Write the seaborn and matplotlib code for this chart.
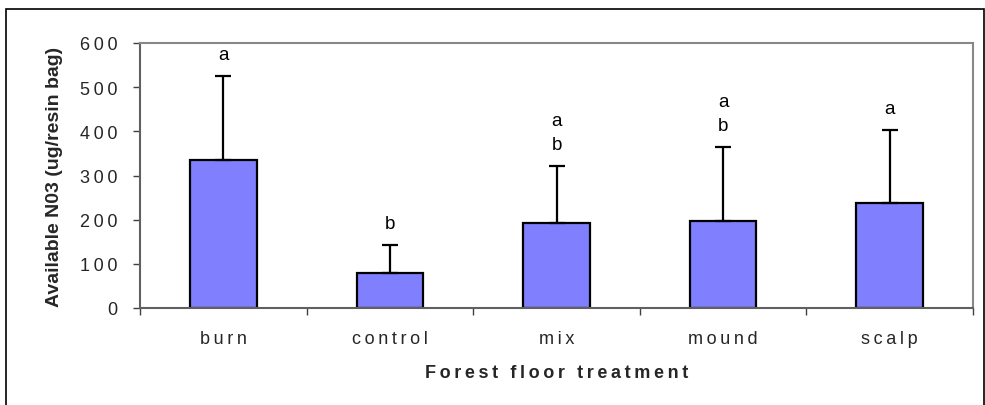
import matplotlib
matplotlib.use("Agg")
import matplotlib.pyplot as plt
import seaborn as sns
import pandas as pd
from matplotlib.patches import Rectangle

treatments = ["burn", "control", "mix", "mound", "scalp"]
means = [335, 79, 192, 198, 238]
errors = [191, 63, 129, 167, 166]
letters = ["a", "b", "a\nb", "a\nb", "a"]
yticks = [0, 100, 200, 300, 400, 500, 600]

sns.set_theme(style="white")
plt.rcParams['font.family'] = ['Liberation Sans', 'DejaVu Sans']

TS = "\u2009"  # thin space used as letter spacing (Excel-style)


def spaced(s):
    return TS.join(list(s))


df = pd.DataFrame({"treatment": treatments, "mean": means})

fig = plt.figure(figsize=(9.85, 4.06), dpi=100)
ax = fig.add_axes([140/985, 1-309/406, (973-140)/985, (309-44)/406])

sns.barplot(data=df, x="treatment", y="mean", ax=ax, color="#8080FF",
            saturation=1, edgecolor="black", linewidth=1.6, width=0.4,
            errorbar=None)

xs = list(range(len(treatments)))
ax.errorbar(xs, means, yerr=[[0]*len(errors), errors], fmt="none",
            ecolor="black", elinewidth=1.6, capsize=6, capthick=1.6, zorder=3)

for x, m, e, lab in zip(xs, means, errors, letters):
    lines = lab.split("\n")[::-1]
    for k, ln in enumerate(lines):
        ax.annotate(ln, xy=(x, m + e), xytext=(0, 15.5 + 17.3 * k),
                    textcoords="offset points", ha="center", va="center",
                    fontsize=13.5, color="black")

ax.set_ylim(0, 600)
ax.set_xlim(-0.5, len(treatments) - 0.5)
ax.set_yticks(yticks)
ax.set_yticklabels([spaced(str(v)) for v in yticks], fontsize=13)
ax.set_xticks([i - 0.5 for i in range(len(treatments) + 1)], minor=False)
ax.set_xticklabels([])
ax.set_xticks(xs, minor=True)
ax.set_xticklabels([spaced(t) for t in treatments], minor=True, fontsize=13)
ax.tick_params(axis="x", which="major", direction="out", length=5, width=1,
               color="#404040", bottom=True)
ax.tick_params(axis="x", which="minor", length=0, pad=16)
ax.tick_params(axis="y", direction="out", length=5, width=1, color="#404040",
               left=True, pad=11)

for s in ax.spines.values():
    s.set_color("#888888")
    s.set_linewidth(1.5)
ax.spines["left"].set_color("#606060")
ax.spines["bottom"].set_color("#606060")

ax.set_xlabel(spaced("Forest floor treatment"), fontsize=13, fontweight="bold",
              labelpad=12)
ax.set_ylabel("Available N03 (ug/resin bag)", fontsize=14, fontweight="bold",
              labelpad=12)

fig.patches.append(Rectangle((6/985, -0.05), (984-6)/985, 1 - 10/406 + 0.05,
                             transform=fig.transFigure, fill=False,
                             edgecolor="black", linewidth=1.2))

fig.savefig("out.png", dpi=100)
